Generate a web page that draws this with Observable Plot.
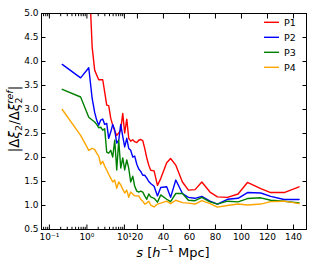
<!DOCTYPE html>
<html><head><meta charset="utf-8">
<script src="https://cdn.jsdelivr.net/npm/d3@7"></script>
<script src="https://cdn.jsdelivr.net/npm/@observablehq/plot@0.6"></script>
<style>body{margin:0;background:#fff;}</style>
</head><body><div id="chart"></div>
<script>
// separation s [h^-1 Mpc]
const sValues = [0.22,0.68,1.12,1.38,1.61,1.82,2.06,2.33,2.64,2.98,3.37,3.81,4.31,4.88,5.51,6.24,7.05,7.97,9.01,
  10.2,11.8,13.3,14.8,16.4,17.9,19.5,21.0,22.5,24.1,25.6,27.2,28.7,
  30.2,32.8,35.4,37.9,42.5,45.5,49.5,54.6,59.2,64.3,69.5,75.8,81.5,89.2,97.4,104.6,114.8,122.5,132.8,144.3];
const p1 = [9.5,7.5,5.93,4.3,3.82,3.72,3.62,3.62,3.62,3.36,3.09,3.08,2.82,2.67,2.55,2.46,2.51,2.57,2.92,
  2.51,2.80,2.40,2.34,2.37,2.33,2.31,2.36,2.375,2.35,2.19,1.99,1.84,
  1.735,1.72,1.42,1.56,1.89,1.98,1.84,1.49,1.32,1.33,1.49,1.28,1.18,1.17,1.24,1.48,1.35,1.27,1.27,1.39];
const p2 = [3.94,3.66,3.87,3.23,2.94,2.78,2.67,2.78,2.80,2.69,2.71,2.40,2.53,2.69,2.57,2.30,2.36,2.69,2.44,
  2.22,2.40,2.19,2.15,2.01,2.03,1.86,1.76,1.71,1.63,1.63,1.57,1.50,
  1.46,1.40,1.20,1.375,1.39,1.17,1.53,1.25,1.17,1.15,1.19,1.09,1.03,1.13,1.15,1.27,1.26,1.19,1.125,1.125];
const p3 = [3.42,3.26,2.84,2.78,2.74,2.69,2.62,2.63,2.57,2.60,2.11,2.09,2.15,2.01,2.36,1.74,2.36,1.78,1.99,
  1.74,1.95,1.78,1.49,1.61,1.40,1.30,1.28,1.30,1.28,1.20,1.13,1.24,
  1.18,1.15,1.07,1.22,1.13,1.08,1.25,1.25,1.11,1.10,1.17,1.075,1.03,1.09,1.075,1.145,1.16,1.11,1.09,1.055];
const p4 = [3.00,2.46,2.15,2.19,2.17,2.09,2.03,1.86,1.92,1.82,1.74,1.65,1.57,1.49,1.53,1.36,1.49,1.43,1.34,
  1.26,1.32,1.17,1.28,1.24,1.20,1.20,1.20,1.13,1.09,1.03,1.05,1.09,
  1.01,0.97,1.03,1.05,1.09,1.04,1.11,1.06,1.05,1.03,1.10,1.04,0.965,1.00,1.03,1.01,1.03,1.08,1.09,1.04];
const seriesNames = ["P1","P2","P3","P4"];
const seriesColors = ["#ff0000","#0000ff","#008000","#ffa500"];
const xTickValues = [0.1,1,10,20,40,60,80,100,120,140];
const xTickLabels = ["10⁻¹","10⁰","10¹","20","40","60","80","100","120","140"];
const xMinorValues = [0.07,0.08,0.09,0.2,0.3,0.4,0.5,0.6,0.7,0.8,0.9,2,3,4,5,6,7,8,9];
const yTickValues = [0.5,1.0,1.5,2.0,2.5,3.0,3.5,4.0,4.5,5.0];

// log below 10, linear above
const K = 28.85;
const xPos = s => s >= 10 ? s : 10 + K * (Math.log10(s) - 1);

const allValues = [p1,p2,p3,p4];
const rows = seriesNames.flatMap((name, k) => sValues.map((s, i) => ({series: name, u: xPos(s), v: allValues[k][i]})));
const majorU = xTickValues.map(xPos);
const minorU = xMinorValues.map(xPos);
const labelOf = new Map(majorU.map((u, i) => [u, xTickLabels[i]]));

const plot = Plot.plot({
  width: 316, height: 264,
  marginLeft: 41, marginRight: 10, marginTop: 13, marginBottom: 35,
  style: {fontFamily: "DejaVu Sans", fontSize: "9px", background: "white", color: "black"},
  x: {type: "linear", domain: [xPos(0.0616), 150]},
  y: {domain: [0.5, 5]},
  color: {domain: seriesNames, range: seriesColors},
  marks: [
    Plot.line(rows, {x: "u", y: "v", z: "series", stroke: "series", strokeWidth: 1.4, clip: true}),
    Plot.frame({stroke: "black", strokeWidth: 1}),
    Plot.axisX({ticks: majorU, anchor: "bottom", tickSize: 0, tickPadding: 4, tickFormat: u => labelOf.get(u), label: null}),
    Plot.axisX({ticks: majorU, anchor: "bottom", tickSize: -4.5, tickFormat: () => "", label: null}),
    Plot.axisX({ticks: majorU, anchor: "top", tickSize: -4.5, tickFormat: () => "", label: null}),
    Plot.axisX({ticks: minorU, anchor: "bottom", tickSize: -2.2, tickFormat: () => "", label: null}),
    Plot.axisX({ticks: minorU, anchor: "top", tickSize: -2.2, tickFormat: () => "", label: null}),
    Plot.axisY({ticks: yTickValues, anchor: "left", tickSize: 0, tickPadding: 3, tickFormat: d3.format(".1f"), label: null}),
    Plot.axisY({ticks: yTickValues, anchor: "left", tickSize: -4.5, tickFormat: () => "", label: null}),
    Plot.axisY({ticks: yTickValues, anchor: "right", tickSize: -4.5, tickFormat: () => "", label: null})
  ]
});
document.getElementById("chart").appendChild(plot);

const svg = d3.select(plot);
// y label
const yl = svg.append("text").attr("transform", "translate(19,119) rotate(-90)")
  .attr("text-anchor", "middle").style("font-size", "13.5px").style("font-family", "DejaVu Sans").attr("fill", "black");
yl.append("tspan").text("|Δ");
yl.append("tspan").style("font-style", "italic").text("ξ");
yl.append("tspan").attr("dy", 3).style("font-size", "9.5px").text("2");
yl.append("tspan").attr("dy", -3).text("/Δ");
yl.append("tspan").style("font-style", "italic").text("ξ");
yl.append("tspan").attr("dy", 3).style("font-size", "9.5px").text("2");
yl.append("tspan").attr("dx", -6).attr("dy", -9.5).style("font-size", "9.5px").style("font-style", "italic").text("ref");
yl.append("tspan").attr("dy", 6.5).text("|");
// x label
const xl = svg.append("text").attr("x", 173).attr("y", 257).attr("text-anchor", "middle")
  .style("font-size", "13px").style("font-family", "DejaVu Sans").attr("fill", "black");
xl.append("tspan").style("font-style", "italic").text("s");
xl.append("tspan").text(" [");
xl.append("tspan").style("font-style", "italic").text("h");
xl.append("tspan").attr("dy", -5).style("font-size", "9px").text("−1");
xl.append("tspan").attr("dy", 5).text(" Mpc]");
// legend
seriesNames.forEach((name, i) => {
  const y = 22.3 + i * 15;
  svg.append("line").attr("x1", 264).attr("x2", 279).attr("y1", y).attr("y2", y)
    .attr("stroke", seriesColors[i]).attr("stroke-width", 1.4);
  svg.append("text").attr("x", 290).attr("y", y + 3.3).style("font-size", "9.5px")
    .style("font-family", "DejaVu Sans").attr("fill", "black").text(name);
});
</script>
</body></html>
